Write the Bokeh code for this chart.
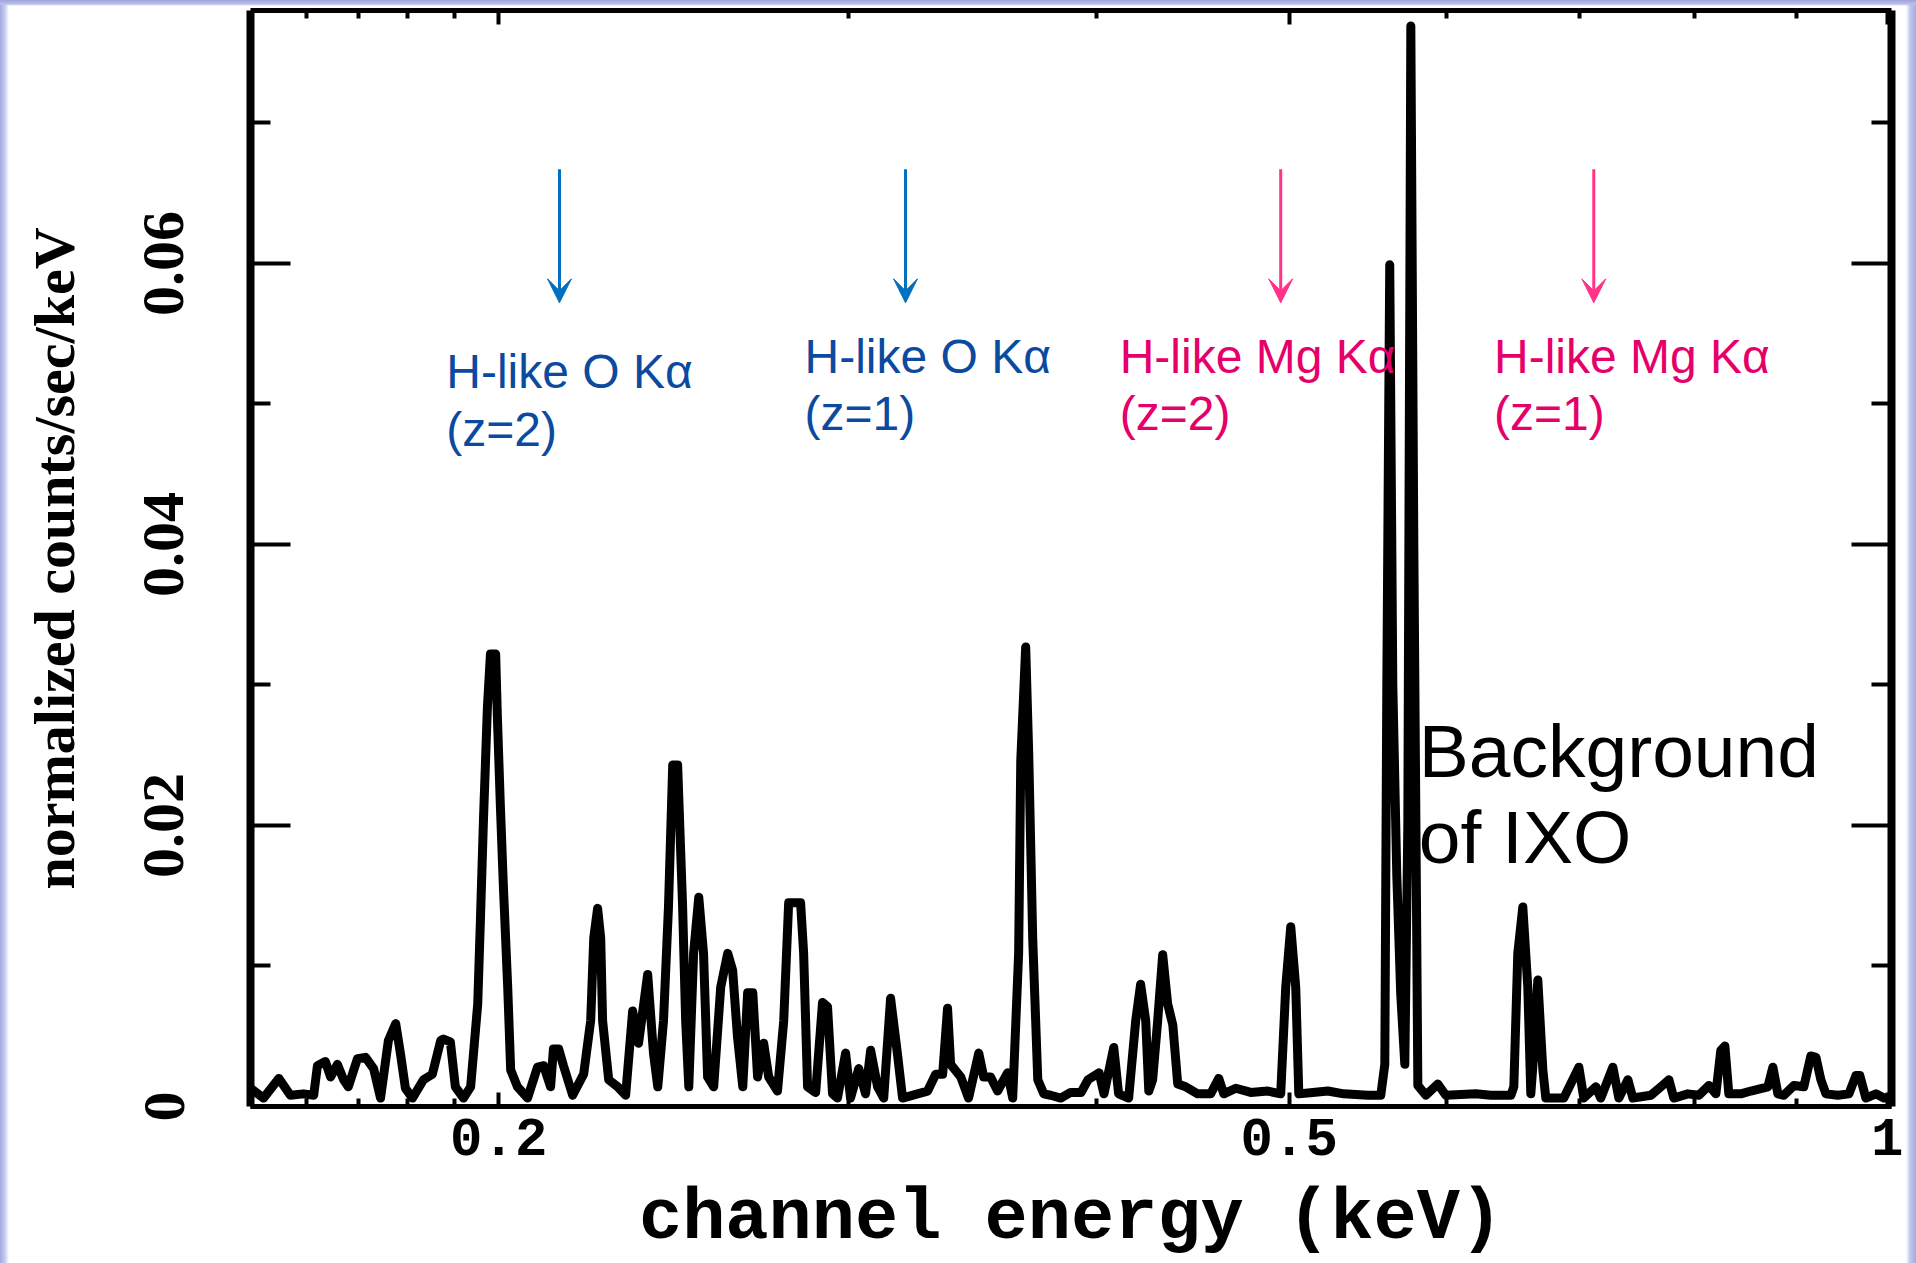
from bokeh.plotting import figure
from bokeh.models import Range1d, FixedTicker, LinearAxis, LogAxis, Arrow, VeeHead
from bokeh.core.properties import value
from bokeh.embed import file_html
from bokeh.resources import INLINE

# ---------------- data ----------------
energy = [
    0.1500, 0.1523, 0.1550, 0.1571, 0.1595, 0.1614, 0.1621, 0.1636, 0.1646, 0.1659,
    0.1671, 0.1680, 0.1698, 0.1714, 0.1730, 0.1744, 0.1760, 0.1775, 0.1785, 0.1795,
    0.1810, 0.1833, 0.1852, 0.1870, 0.1876, 0.1891, 0.1902, 0.1920, 0.1936, 0.1952,
    0.1958, 0.1965, 0.1974, 0.1981, 0.1993, 0.1997, 0.2004, 0.2011, 0.2021, 0.2028,
    0.2044, 0.2068, 0.2092, 0.2107, 0.2124, 0.2131, 0.2144, 0.2156, 0.2179, 0.2207,
    0.2225, 0.2233, 0.2243, 0.2251, 0.2256, 0.2272, 0.2296, 0.2317, 0.2336, 0.2352,
    0.2377, 0.2393, 0.2405, 0.2421, 0.2435, 0.2447, 0.2461, 0.2475, 0.2484, 0.2493,
    0.2507, 0.2522, 0.2536, 0.2548, 0.2566, 0.2587, 0.2608, 0.2623, 0.2638, 0.2654,
    0.2669, 0.2685, 0.2700, 0.2719, 0.2735, 0.2763, 0.2783, 0.2799, 0.2838, 0.2848,
    0.2861, 0.2888, 0.2911, 0.2928, 0.2945, 0.2962, 0.2990, 0.3007, 0.3036, 0.3060,
    0.3078, 0.3103, 0.3125, 0.3150, 0.3176, 0.3194, 0.3250, 0.3288, 0.3319, 0.3346,
    0.3365, 0.3377, 0.3417, 0.3448, 0.3489, 0.3509, 0.3537, 0.3566, 0.3608, 0.3629,
    0.3654, 0.3663, 0.3684, 0.3697, 0.3714, 0.3736, 0.3762, 0.3792, 0.3837, 0.3881,
    0.3928, 0.3960, 0.4011, 0.4034, 0.4080, 0.4103, 0.4151, 0.4185, 0.4209, 0.4234,
    0.4249, 0.4268, 0.4293, 0.4318, 0.4343, 0.4369, 0.4394, 0.4435, 0.4497, 0.4565,
    0.4608, 0.4635, 0.4700, 0.4782, 0.4877, 0.4951, 0.4980, 0.5009, 0.5038, 0.5056,
    0.5138, 0.5229, 0.5326, 0.5477, 0.5560, 0.5586, 0.5599, 0.5618, 0.5638, 0.5664,
    0.5690, 0.5717, 0.5737, 0.5757, 0.5777, 0.5804, 0.5858, 0.5940, 0.5995, 0.6207,
    0.6316, 0.6465, 0.6487, 0.6517, 0.6555, 0.6593, 0.6616, 0.6639, 0.6670, 0.6709,
    0.6732, 0.6874, 0.6995, 0.7035, 0.7134, 0.7175, 0.7276, 0.7327, 0.7404, 0.7447,
    0.7604, 0.7692, 0.7764, 0.7809, 0.7937, 0.8039, 0.8133, 0.8199, 0.8246, 0.8285,
    0.8323, 0.8440, 0.8538, 0.8658, 0.8708, 0.8759, 0.8810, 0.8871, 0.8975, 0.9079,
    0.9153, 0.9207, 0.9260, 0.9314, 0.9444, 0.9566, 0.9644, 0.9688, 0.9756, 0.9870,
    0.9962, 1.0050,
]
counts = [
    0.0013, 0.0006, 0.0020, 0.0008, 0.0009, 0.0008, 0.0029, 0.0032, 0.0021, 0.0030,
    0.0019, 0.0014, 0.0034, 0.0035, 0.0027, 0.0006, 0.0047, 0.0059, 0.0037, 0.0013,
    0.0006, 0.0019, 0.0023, 0.0047, 0.0048, 0.0046, 0.0014, 0.0006, 0.0014, 0.0073,
    0.0132, 0.0204, 0.0284, 0.0322, 0.0322, 0.0277, 0.0213, 0.0156, 0.0085, 0.0026,
    0.0014, 0.0006, 0.0028, 0.0029, 0.0014, 0.0041, 0.0041, 0.0029, 0.0008, 0.0023,
    0.0061, 0.0120, 0.0141, 0.0120, 0.0061, 0.0019, 0.0014, 0.0008, 0.0068, 0.0045,
    0.0094, 0.0038, 0.0014, 0.0061, 0.0142, 0.0243, 0.0243, 0.0144, 0.0061, 0.0014,
    0.0109, 0.0149, 0.0109, 0.0021, 0.0014, 0.0085, 0.0109, 0.0097, 0.0049, 0.0014,
    0.0081, 0.0081, 0.0021, 0.0045, 0.0021, 0.0011, 0.0061, 0.0145, 0.0145, 0.0109,
    0.0014, 0.0010, 0.0074, 0.0071, 0.0009, 0.0006, 0.0038, 0.0006, 0.0027, 0.0009,
    0.0040, 0.0014, 0.0006, 0.0077, 0.0036, 0.0006, 0.0009, 0.0011, 0.0023, 0.0023,
    0.0070, 0.0030, 0.0021, 0.0006, 0.0038, 0.0021, 0.0021, 0.0011, 0.0024, 0.0006,
    0.0109, 0.0246, 0.0327, 0.0251, 0.0120, 0.0019, 0.0009, 0.0008, 0.0006, 0.0010,
    0.0010, 0.0019, 0.0024, 0.0009, 0.0042, 0.0009, 0.0006, 0.0061, 0.0087, 0.0061,
    0.0011, 0.0019, 0.0061, 0.0108, 0.0073, 0.0058, 0.0016, 0.0014, 0.0009, 0.0009,
    0.0020, 0.0009, 0.0013, 0.0010, 0.0011, 0.0009, 0.0085, 0.0128, 0.0085, 0.0009,
    0.0010, 0.0011, 0.0009, 0.0008, 0.0008, 0.0030, 0.0300, 0.0599, 0.0300, 0.0165,
    0.0080, 0.0030, 0.0200, 0.0769, 0.0400, 0.0015, 0.0008, 0.0016, 0.0008, 0.0009,
    0.0008, 0.0008, 0.0014, 0.0109, 0.0142, 0.0085, 0.0009, 0.0038, 0.0090, 0.0026,
    0.0006, 0.0006, 0.0028, 0.0006, 0.0014, 0.0006, 0.0028, 0.0006, 0.0019, 0.0006,
    0.0008, 0.0014, 0.0019, 0.0006, 0.0009, 0.0008, 0.0015, 0.0009, 0.0040, 0.0043,
    0.0009, 0.0009, 0.0011, 0.0013, 0.0014, 0.0028, 0.0009, 0.0008, 0.0015, 0.0014,
    0.0036, 0.0035, 0.0019, 0.0009, 0.0008, 0.0009, 0.0022, 0.0022, 0.0006, 0.0009,
    0.0006, 0.0006,
]

x_ticks = [0.2, 0.5, 1.0]
x_tick_labels = ["0.2", "0.5", "1"]
x_minor_ticks = [0.16, 0.17, 0.18, 0.19, 0.3, 0.4, 0.6, 0.7, 0.8, 0.9]
y_ticks = [0, 0.02, 0.04, 0.06]
y_tick_labels = ["0", "0.02", "0.04", "0.06"]
y_minor_ticks = [0.01, 0.03, 0.05, 0.07]

line_energy = [0.2146, 0.3205, 0.4951, 0.7117]
line_name = ["H-like O K\u03b1", "H-like O K\u03b1", "H-like Mg K\u03b1", "H-like Mg K\u03b1"]
line_z = ["(z=2)", "(z=1)", "(z=2)", "(z=1)"]
bg_text = ["Background", "of IXO"]
x_title = "channel energy (keV)"
y_title = "normalized counts/sec/keV"

# ---------------- positions / styles ----------------
arrow_top, arrow_tip = 0.0667, 0.0572
label_x = [0.1882, 0.2851, 0.4108, 0.6340]
label_y1 = [0.0523, 0.0534, 0.0534, 0.0534]
label_y2 = [0.0482, 0.0493, 0.0493, 0.0493]
arrow_colors = ["#0070C0", "#0070C0", "#FF3388", "#FF3388"]
text_colors = ["#0B4A9E", "#0B4A9E", "#E6006A", "#E6006A"]
bg_x = [0.5810, 0.5810]
bg_y = [0.0253, 0.0192]

p = figure(width=1916, height=1263, x_axis_type="log",
           x_range=Range1d(0.15, 1.005), y_range=Range1d(0, 0.078),
           output_backend="svg", toolbar_location=None,
           min_border_left=250, min_border_right=25,
           min_border_top=10, min_border_bottom=157)
p.xgrid.visible = False
p.ygrid.visible = False
p.outline_line_color = None
p.background_fill_color = "white"
p.border_fill_color = "white"
p.border_fill_alpha = 0.0
p.styles = {
    "background-image": (
        "linear-gradient(to bottom, #9ea2d8 0px, #b9bfec 4px, rgba(255,255,255,0) 6px), "
        "linear-gradient(to right, #a3a9dd 0px, #c6cdf1 5px, #ffffff 9px, "
        "#ffffff 1906px, #c3c8ef 1910px, #a3a9dd 1916px)"
    ),
    "background-repeat": "no-repeat",
    "background-color": "#ffffff",
}

def style_axis(ax, line_w, maj_in, min_in):
    ax.axis_line_width = line_w
    ax.axis_line_color = "black"
    ax.major_tick_in = maj_in
    ax.major_tick_out = 0
    ax.minor_tick_in = min_in
    ax.minor_tick_out = 0
    ax.major_tick_line_width = 4
    ax.minor_tick_line_width = 4
    ax.major_tick_line_color = "black"
    ax.minor_tick_line_color = "black"

xt = FixedTicker(ticks=x_ticks, minor_ticks=x_minor_ticks)
yt = FixedTicker(ticks=y_ticks, minor_ticks=y_minor_ticks)

xa = p.xaxis[0]
xa.ticker = xt
xa.major_label_overrides = dict(zip(x_ticks, x_tick_labels))
style_axis(xa, 5, 14, 8)
xa.major_label_text_font = "Liberation Mono"
xa.major_label_text_font_style = "bold"
xa.major_label_text_font_size = "54px"
xa.major_label_text_color = "black"
xa.major_label_standoff = 12
xa.axis_label = x_title
xa.axis_label_text_font = "Liberation Mono"
xa.axis_label_text_font_style = "bold"
xa.axis_label_text_font_size = "72px"
xa.axis_label_text_color = "black"
xa.axis_label_standoff = 20

ya = p.yaxis[0]
ya.ticker = yt
ya.major_label_overrides = dict(zip(y_ticks, y_tick_labels))
style_axis(ya, 8, 40, 20)
ya.major_label_orientation = "vertical"
ya.major_label_text_font = "Liberation Serif"
ya.major_label_text_font_style = "bold"
ya.major_label_text_font_size = "60px"
ya.major_label_text_color = "black"
ya.major_label_standoff = 67
ya.axis_label = y_title
ya.axis_label_text_font = "Liberation Serif"
ya.axis_label_text_font_style = "bold"
ya.axis_label_text_font_size = "58px"
ya.axis_label_text_color = "black"
ya.axis_label_standoff = 55

top = LogAxis(ticker=xt, major_label_text_font_size="1px", major_label_text_color=None,
              major_label_standoff=0)
style_axis(top, 5, 14, 8)
p.add_layout(top, "above")
right = LinearAxis(ticker=yt, major_label_text_font_size="1px", major_label_text_color=None,
                   major_label_standoff=0)
style_axis(right, 8, 40, 20)
p.add_layout(right, "right")

# spectrum
p.line(energy, counts, line_color="black", line_width=9, line_join="round")

# line arrows and labels
for e, c in zip(line_energy, arrow_colors):
    p.add_layout(Arrow(end=VeeHead(size=24, line_color=c, fill_color=c, line_width=1),
                       x_start=e, y_start=arrow_top, x_end=e, y_end=arrow_tip,
                       line_color=c, line_width=3))

p.text(x=label_x, y=label_y1, text=line_name, text_color=text_colors,
       text_font=value("Liberation Sans"), text_font_size="48px",
       text_align="left", text_baseline="alphabetic")
p.text(x=label_x, y=label_y2, text=line_z, text_color=text_colors,
       text_font=value("Liberation Sans"), text_font_size="48px",
       text_align="left", text_baseline="alphabetic")
p.text(x=bg_x, y=bg_y, text=bg_text, text_color="black",
       text_font=value("Liberation Sans"), text_font_size="75px",
       text_align="left", text_baseline="alphabetic")

open("out.html", "w").write(file_html(p, INLINE))
